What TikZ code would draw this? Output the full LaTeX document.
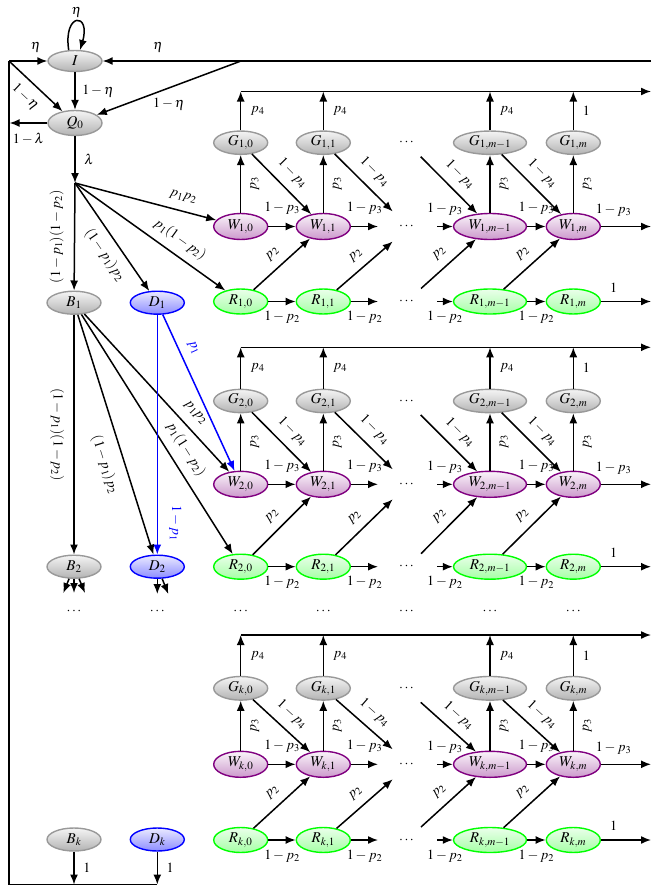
\documentclass[tikz,border=0pt]{standalone}
\usepackage{mathptmx}
\usetikzlibrary{shapes.geometric,arrows.meta}
\tikzset{
 fnt/.style={font=\fontsize{14}{16}\selectfont},
 nfnt/.style={font=\fontsize{15}{17}\selectfont},
 st/.style={ellipse, line width=1.4pt, inner sep=1pt, minimum width=54pt, minimum height=23pt, nfnt},
 gst/.style={st, draw=gray!80, top color=gray!8, bottom color=gray!60},
 wst/.style={st, draw=violet, top color=violet!4, bottom color=violet!40, minimum height=26pt},
 rst/.style={st, draw=green, top color=green!8, bottom color=green!35, minimum height=25pt},
 dst/.style={st, draw=blue, top color=blue!8, bottom color=blue!45},
 wide/.style={minimum width=73pt},
 arr/.style={-{Latex[length=10pt,width=8pt]}, line width=1.5pt},
 barr/.style={arr, blue},
 ln/.style={line width=1.5pt},
 lb/.style={fnt, inner sep=1.5pt},
 up3/.style={lb, midway, xshift=14pt, rotate=90},
 dg/.style={lb, pos=0.5, sloped, above=7pt},
 hw/.style={lb, midway, yshift=18pt},
 hr/.style={lb, midway, yshift=-16pt},
}
\newcommand\drawgroup[5]{%
\node[gst] (G#1a) at (240.7,#3) {$G_{#1,0}$};
\node[gst] (G#1b) at (323.3,#3) {$G_{#1,1}$};
\node[gst,wide] (G#1c) at (490,#3) {$G_{#1,m-1}$};
\node[gst] (G#1d) at (573.3,#3) {$G_{#1,m}$};
\node[wst] (W#1a) at (240.7,#4) {$W_{#1,0}$};
\node[wst] (W#1b) at (323.3,#4) {$W_{#1,1}$};
\node[wst,wide] (W#1c) at (490,#4) {$W_{#1,m-1}$};
\node[wst] (W#1d) at (573.3,#4) {$W_{#1,m}$};
\node[rst] (R#1a) at (240.7,#5) {$R_{#1,0}$};
\node[rst] (R#1b) at (323.3,#5) {$R_{#1,1}$};
\node[rst,wide] (R#1c) at (490,#5) {$R_{#1,m-1}$};
\node[rst] (R#1d) at (573.3,#5) {$R_{#1,m}$};
\node[fnt] (xG#1) at (406.5,#3) {$\cdots$};
\node[fnt] (xW#1) at (406.5,#4) {$\cdots$};
\node[fnt] (xR#1) at (406.5,#5) {$\cdots$};
\coordinate (T#1a) at (240.7,#2);
\coordinate (T#1b) at (323.3,#2);
\coordinate (T#1c) at (490,#2);
\coordinate (T#1d) at (573.3,#2);
\coordinate (T#1e) at (651,#2);
\coordinate (cW#1) at (378,#4);
\coordinate (cG#1) at (392.7,#4-15);
\coordinate (cR#1) at (392.7,#4+15);
\coordinate (cRR#1) at (378,#5);
\coordinate (eW#1) at (437,#4);
\coordinate (eG#1) at (420.7,#3+14);
\coordinate (eR#1) at (421,#5-13);
\coordinate (eRR#1) at (437,#5);
\coordinate (oW#1) at (651,#4);
\coordinate (oR#1) at (651,#5);
\draw[arr] (T#1a) -- (T#1e);
\draw[arr] (G#1a) -- (T#1a) node[lb,midway,xshift=17pt]{$p_4$};
\draw[arr] (G#1b) -- (T#1b) node[lb,midway,xshift=17pt]{$p_4$};
\draw[arr] (G#1c) -- (T#1c) node[lb,midway,xshift=17pt]{$p_4$};
\draw[arr] (G#1d) -- (T#1d) node[lb,midway,xshift=13pt]{$1$};
\draw[arr] (W#1a) -- (G#1a) node[up3]{$p_3$};
\draw[arr] (W#1b) -- (G#1b) node[up3]{$p_3$};
\draw[arr] (W#1c) -- (G#1c) node[up3]{$p_3$};
\draw[arr] (W#1d) -- (G#1d) node[up3]{$p_3$};
\draw[arr] (G#1a) -- (W#1b) node[dg]{$1-p_4$};
\draw[arr] (W#1a) -- (W#1b) node[hw]{$1-p_3$};
\draw[arr] (R#1a) -- (W#1b) node[dg]{$p_2$};
\draw[arr] (R#1a) -- (R#1b) node[hr]{$1-p_2$};
\draw[arr] (G#1b) -- (cG#1) node[dg]{$1-p_4$};
\draw[arr] (W#1b) -- (cW#1) node[hw]{$1-p_3$};
\draw[arr] (R#1b) -- (cR#1) node[dg]{$p_2$};
\draw[arr] (R#1b) -- (cRR#1) node[hr]{$1-p_2$};
\draw[arr] (eG#1) -- (W#1c) node[dg]{$1-p_4$};
\draw[arr] (eW#1) -- (W#1c) node[lb,midway,yshift=17pt]{$1-p_3$};
\draw[arr] (eR#1) -- (W#1c) node[dg]{$p_2$};
\draw[arr] (eRR#1) -- (R#1c) node[hr]{$1-p_2$};
\draw[arr] (G#1c) -- (W#1d) node[dg]{$1-p_4$};
\draw[arr] (W#1c) -- (W#1d) node[hw]{$1-p_3$};
\draw[arr] (R#1c) -- (W#1d) node[dg]{$p_2$};
\draw[arr] (R#1c) -- (R#1d) node[hr]{$1-p_2$};
\draw[arr] (W#1d) -- (oW#1) node[lb,pos=0.25,yshift=16pt]{$1-p_3$};
\draw[arr] (R#1d) -- (oR#1) node[lb,pos=0.25,yshift=14pt]{$1$};
}
\begin{document}
\begin{tikzpicture}[x=1pt,y=-1pt]
\useasboundingbox (0,0) rectangle (651,886);
\node[gst, minimum height=21pt] (I) at (75,61) {$I$};
\node[gst, minimum height=25pt] (Q) at (75,123) {$Q_0$};
\coordinate (BP) at (75,183);
\node[gst] (B1) at (74,302.7) {$B_1$};
\node[dst] (D1) at (157.3,302.7) {$D_1$};
\node[gst] (B2) at (74,566.7) {$B_2$};
\node[dst] (D2) at (157.3,566.7) {$D_2$};
\node[gst] (Bk) at (74,839.5) {$B_k$};
\node[dst] (Dk) at (157.3,839.5) {$D_k$};
\drawgroup{1}{91.5}{142.7}{226.5}{301.5}
\drawgroup{2}{347.3}{401}{484.3}{566.7}
\drawgroup{k}{635}{688.3}{764.3}{840}
\foreach \x [count=\i] in {74,157.3,240.7,323.3,406.5,490,573.3}
  \node[fnt] (dd\i) at (\x,611) {$\cdots$};
\coordinate (L) at (9,61);
\coordinate (J) at (241,61);
\coordinate (RT) at (651,61);
\coordinate (LB) at (9,884.5);
\coordinate (DB) at (157.3,884.5);
\coordinate (BB) at (74,884.5);
\coordinate (QL) at (9.6,123);
\draw[ln] (RT) -- (J);
\draw[arr] (J) -- (I) node[lb,pos=0.6,above=6pt]{$\eta$};
\draw[arr] (J) -- (Q) node[lb,pos=0.5,below=8pt]{$1-\eta$};
\draw[arr] (L) -- (I) node[lb,pos=0.7,above=6pt]{$\eta$};
\draw[arr] (L) -- (Q) node[lb,midway,sloped,below=7pt]{$1-\eta$};
\draw[arr] (I) -- (Q) node[lb,midway,right=5pt]{$1-\eta$};
\draw[arr] (Q) -- (QL) node[lb,midway,below=8pt]{$1-\lambda$};
\draw[arr] (Q) -- (BP) node[lb,midway,right=7pt]{$\lambda$};
\draw[arr] (I.120) .. controls (63,12) and (91,12) .. (I.65) node[lb,midway,above=2pt]{$\eta$};
\draw[ln] (L) -- (LB) -- (DB);
\draw[arr] (Bk) -- (BB) node[lb,midway,right=7pt]{$1$};
\draw[arr] (Dk) -- (DB) node[lb,midway,right=7pt]{$1$};
\draw[arr] (BP) -- (W1a) node[lb,pos=0.74,sloped,above=7pt]{$p_1p_2$};
\draw[arr] (BP) -- (R1a) node[lb,pos=0.64,sloped,above=6pt]{$p_1(1-p_2)$};
\draw[arr] (BP) -- (D1) node[lb,pos=0.58,sloped,below=7pt]{$(1-p_1)p_2$};
\draw[arr] (BP) -- (B1) node[lb,midway,xshift=-18pt,rotate=90]{$(1-p_1)(1-p_2)$};
\draw[arr] (B1) -- (B2) node[lb,midway,xshift=-17pt,rotate=-90]{$(1-p_1)(1-p_2)$};
\draw[arr] (B1) -- (D2) node[lb,pos=0.6,sloped,below=10pt]{$(1-p_1)p_2$};
\draw[arr] (B1) -- (W2a) node[lb,pos=0.69,sloped,above=8pt]{$p_1p_2$};
\draw[arr] (B1) -- (R2a) node[lb,pos=0.6,sloped,above=7pt]{$p_1(1-p_2)$};
\draw[barr] (D1) -- (D2) node[lb,pos=0.87,xshift=18pt,rotate=-90,blue]{$1-p_1$};
\draw[barr] (D1) -- (W2a) node[lb,pos=0.25,sloped,above=7pt,blue]{$p_1$};
\coordinate (s1) at (63.3,593);
\coordinate (s2) at (74,593);
\coordinate (s3) at (85,593);
\coordinate (s4) at (157.3,594);
\coordinate (s5) at (168.3,594);
\draw[arr] (B2) -- (s1);
\draw[arr] (B2) -- (s2);
\draw[arr] (B2) -- (s3);
\draw[arr] (D2) -- (s4);
\draw[arr] (D2) -- (s5);
\end{tikzpicture}
\end{document}
